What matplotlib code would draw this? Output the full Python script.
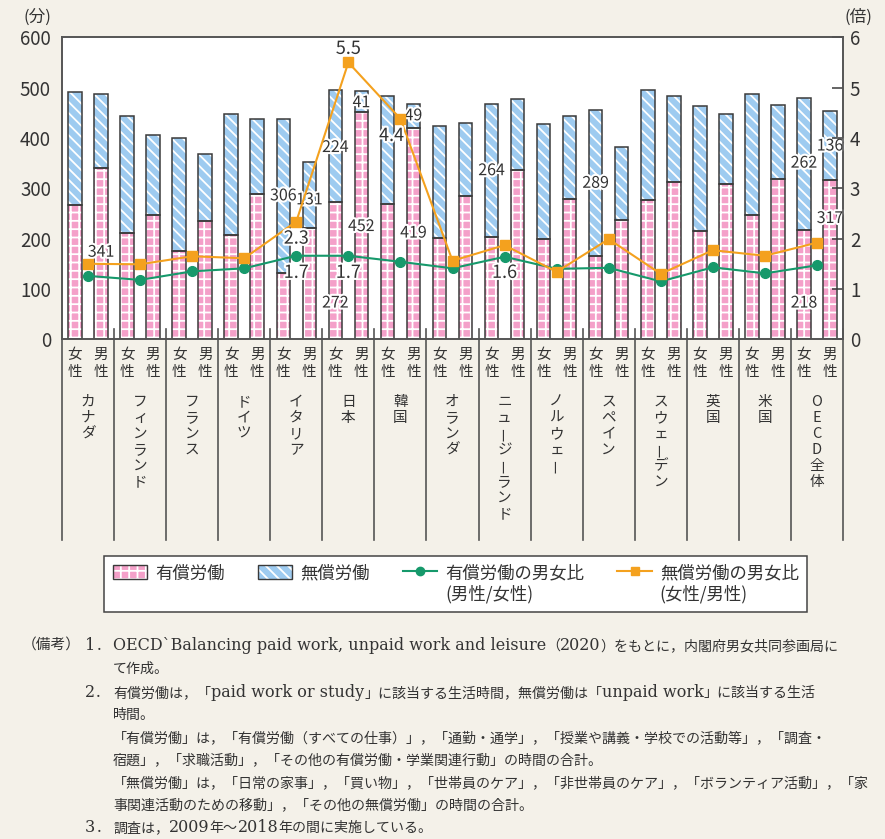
import matplotlib
matplotlib.use("Agg")
import matplotlib.pyplot as plt
import matplotlib.patheffects as pe
from matplotlib import font_manager
from matplotlib.patches import Patch
from matplotlib.lines import Line2D
from matplotlib.legend_handler import HandlerTuple
from matplotlib.transforms import blended_transform_factory
import numpy as np

# data (minutes per day, ratios)
countries = ["カナダ", "フィンランド", "フランス", "ドイツ", "イタリア", "日本", "韓国",
             "オランダ", "ニュージーランド", "ノルウェー", "スペイン", "スウェーデン",
             "英国", "米国", "OECD全体"]
paid_f = [267, 211, 176, 207, 132, 272, 269, 201, 204, 200, 166, 276, 215, 246, 218]
unpaid_f = [224, 233, 224, 240, 306, 224, 215, 223, 264, 227, 289, 219, 249, 241, 262]
paid_m = [341, 247, 235, 289, 221, 452, 419, 285, 336, 278, 237, 313, 308, 319, 317]
unpaid_m = [146, 159, 134, 149, 131, 41, 49, 145, 141, 166, 146, 171, 139, 146, 136]
ratio_paid = [1.26, 1.18, 1.35, 1.41, 1.66, 1.66, 1.54, 1.41, 1.64, 1.40, 1.42, 1.15, 1.43, 1.31, 1.47]
ratio_unpaid = [1.50, 1.49, 1.65, 1.61, 2.34, 5.50, 4.38, 1.56, 1.87, 1.34, 1.99, 1.30, 1.77, 1.66, 1.92]
sexes = ["女性", "男性"]
left_ticks = [0, 100, 200, 300, 400, 500, 600]
right_ticks = [0, 1, 2, 3, 4, 5, 6]

notes = [
    "OECD`Balancing paid work, unpaid work and leisure（2020）をもとに，内閣府男女共同参画局に",
    "て作成。",
    "有償労働は，「paid work or study」に該当する生活時間，無償労働は「unpaid work」に該当する生活",
    "時間。",
    "「有償労働」は，「有償労働（すべての仕事）」，「通勤・通学」，「授業や講義・学校での活動等」，「調査・",
    "宿題」，「求職活動」，「その他の有償労働・学業関連行動」の時間の合計。",
    "「無償労働」は，「日常の家事」，「買い物」，「世帯員のケア」，「非世帯員のケア」，「ボランティア活動」，「家",
    "事関連活動のための移動」，「その他の無償労働」の時間の合計。",
    "調査は，2009年～2018年の間に実施している。",
]
note_nums = {0: "1．", 2: "2．", 8: "3．"}
note_base = [650, 673, 697, 719, 742, 764, 787, 809, 832]

jp = "Noto Sans CJK JP"
plt.rcParams['font.family'] = [jp, 'DejaVu Sans']
plt.rcParams['hatch.linewidth'] = 1.3
installed = {f.name for f in font_manager.fontManager.ttflist}
narrow = "Liberation Sans Narrow" if "Liberation Sans Narrow" in installed else jp

pink = "#f4a0c9"
blue = "#9ecbf0"
edge = "#3a3a3a"
green = "#16996b"
orange = "#f4a11e"
txt = "#333333"
bg = "#f4f1e9"

W, H = 885, 839
fig = plt.figure(figsize=(W / 100, H / 100), dpi=100, facecolor=bg)
ax = fig.add_axes([62 / W, 1 - 339.3 / H, (843 - 62) / W, (339.3 - 37.3) / H])
ax2 = ax.twinx()

def fy(px):
    return 1 - px / H

n = len(countries)
x = np.arange(n)
bw = 0.26
xf = x - 0.25
xm = x + 0.25

for xs, paid, unpaid in [(xf, paid_f, unpaid_f), (xm, paid_m, unpaid_m)]:
    ax.bar(xs, paid, bw, color=pink, edgecolor="white", hatch="++", linewidth=0, zorder=2)
    ax.bar(xs, unpaid, bw, bottom=paid, color=blue, edgecolor="white", hatch="\\\\\\", linewidth=0, zorder=2)
    ax.bar(xs, paid, bw, fill=False, edgecolor=edge, linewidth=1.1, zorder=3)
    ax.bar(xs, unpaid, bw, bottom=paid, fill=False, edgecolor=edge, linewidth=1.1, zorder=3)

ax2.plot(x, ratio_paid, color=green, marker="o", markersize=7, linewidth=1.5, zorder=4)
ax2.plot(x, ratio_unpaid, color=orange, marker="s", markersize=7, linewidth=1.5, zorder=4)

ax.set_xlim(-0.5, n - 0.5)
ax.set_ylim(0, 600)
ax2.set_ylim(0, 6)
ax.set_zorder(ax2.get_zorder() - 1)
ax.patch.set_visible(True)
ax.patch.set_facecolor("white")
ax2.patch.set_visible(False)
ax.set_xticks([])
ax.set_yticks(left_ticks)
ax2.set_yticks(right_ticks)
ax.tick_params(axis="y", length=0, pad=8, labelsize=13.5, labelcolor=txt)
ax2.tick_params(axis="y", direction="in", length=8, width=1.1, color=edge, pad=5,
                labelsize=13.5, labelcolor=txt)
for a in (ax, ax2):
    for s in a.spines.values():
        s.set_color("#555555")
        s.set_linewidth(1.2)

# value labels with white halo
halo = [pe.withStroke(linewidth=3, foreground="white")]
bar_labels = [
    (0, "m", "paid", 173), (4, "f", "unpaid", 285), (4, "m", "unpaid", 277),
    (5, "f", "unpaid", 381), (5, "f", "paid", 72), (5, "m", "unpaid", 470), (5, "m", "paid", 224),
    (6, "m", "unpaid", 444), (6, "m", "paid", 211), (8, "f", "unpaid", 335),
    (10, "f", "unpaid", 310), (14, "f", "unpaid", 350), (14, "f", "paid", 72),
    (14, "m", "unpaid", 384), (14, "m", "paid", 240),
]
src = {("f", "paid"): paid_f, ("f", "unpaid"): unpaid_f, ("m", "paid"): paid_m, ("m", "unpaid"): unpaid_m}
for i, sx, kind, ypos in bar_labels:
    xx = xf[i] if sx == "f" else xm[i]
    ax.text(xx, ypos, str(src[(sx, kind)][i]), ha="center", va="center", fontsize=11.5,
            family=narrow, color=txt, path_effects=halo, zorder=6)

ratio_labels = [
    (4, 0.0, ratio_unpaid, 2.0), (4, 0.0, ratio_paid, 1.32), (5, 0.0, ratio_unpaid, 5.77),
    (5, 0.0, ratio_paid, 1.32), (6, -0.17, ratio_unpaid, 4.04), (8, 0.0, ratio_paid, 1.32),
]
for i, dx, arr, ypos in ratio_labels:
    ax2.text(i + dx, ypos, f"{arr[i]:.1f}", ha="center", va="center", fontsize=13,
             color=txt, path_effects=halo, zorder=6)

fig.text(37 / W, fy(17), "(分)", ha="center", va="center", fontsize=12, color=txt)
fig.text(858 / W, fy(17), "(倍)", ha="center", va="center", fontsize=12, color=txt)

# category axis below the plot
trans = blended_transform_factory(ax.transData, fig.transFigure)
for b in np.arange(n + 1) - 0.5:
    ax.add_line(Line2D([b, b], [fy(329), fy(540)], transform=trans, color="#555555",
                       linewidth=1.2, clip_on=False))
for i in range(n):
    for xx, s in [(xf[i], sexes[0]), (xm[i], sexes[1])]:
        for k, ch in enumerate(s):
            ax.text(xx, fy(355 + 17 * k), ch, transform=trans, ha="center", va="center",
                    fontsize=10.5, color=txt, clip_on=False)
    for k, ch in enumerate(countries[i]):
        ax.text(x[i], fy(402 + 16 * k), ch, transform=trans, ha="center", va="center",
                fontsize=10.5, color=txt, rotation=90 if ch == "ー" else 0, clip_on=False)

# legend
handles = [
    (Patch(facecolor=pink, edgecolor="white", hatch="++", linewidth=0),
     Patch(fill=False, edgecolor=edge, linewidth=1)),
    (Patch(facecolor=blue, edgecolor="white", hatch="\\\\\\", linewidth=0),
     Patch(fill=False, edgecolor=edge, linewidth=1)),
    Line2D([], [], color=green, marker="o", markersize=6, linewidth=1.5),
    Line2D([], [], color=orange, marker="s", markersize=6, linewidth=1.5),
]
labels = ["有償労働", "無償労働", "有償労働の男女比\n(男性/女性)", "無償労働の男女比\n(女性/男性)"]
leg = fig.legend(handles, labels, loc="upper left", bbox_to_anchor=(104 / W, fy(556)),
                 borderaxespad=0, ncol=4, fontsize=12.5, frameon=True, fancybox=False,
                 edgecolor="#444444", facecolor="white", framealpha=1,
                 handlelength=2.0, handleheight=0.85, columnspacing=1.9, handletextpad=0.45,
                 borderpad=0.5, labelspacing=0.1,
                 handler_map={tuple: HandlerTuple(ndivide=1, pad=0)})
leg.get_frame().set_linewidth(1.1)
for t in leg.get_texts():
    t.set_color(txt)
    t.set_linespacing(1.15)
# put each handle beside the first line of its label
leg._legend_handle_box.align = "top"
for col in leg._legend_handle_box.get_children():
    for item in col.get_children():
        item.align = "top"

# notes: latin runs in a wider serif, japanese runs in the CJK font
renderer = fig.canvas.get_renderer()

def draw_runs(ybase, xstart, s, cjk_size=10.1):
    runs = []
    for ch in s:
        latin = ch.isascii()
        if runs and runs[-1][0] == latin:
            runs[-1][1] += ch
        else:
            runs.append([latin, ch])
    xcur = xstart
    for latin, seg in runs:
        t = fig.text(xcur / W, fy(ybase), seg, ha="left", va="baseline",
                     fontsize=11.5 if latin else cjk_size, family="DejaVu Serif" if latin else jp,
                     color=txt)
        xcur = t.get_window_extent(renderer).x1

draw_runs(note_base[0], 22, "（備考）", cjk_size=10.6)
for k, s in enumerate(notes):
    if k in note_nums:
        draw_runs(note_base[k], 85, note_nums[k])
    draw_runs(note_base[k], 113, s)

fig.savefig("out.png", dpi=100, facecolor=bg)
